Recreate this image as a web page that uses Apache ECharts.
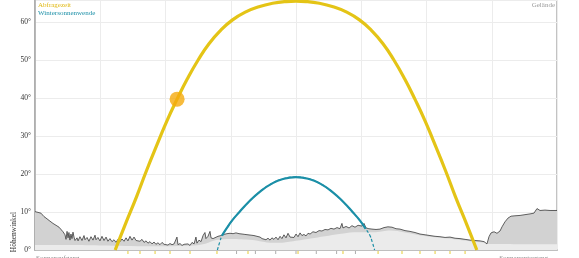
<!DOCTYPE html>
<html><head><meta charset="utf-8">
<script src="https://cdn.jsdelivr.net/npm/echarts@6/dist/echarts.min.js"></script>
<style>html,body{margin:0;padding:0;background:#fff}#c{width:579px;height:258px}</style>
</head><body><div id="c"></div>
<script>
// Azimuth (deg) / altitude (deg) readings
const sunPathAz  = [55.3, 62, 70, 77, 85, 91, 98, 105, 112.5, 120, 128, 136, 145, 155, 165, 172, 180, 188, 195, 205, 215, 224, 232, 240, 247.5, 255, 262, 269, 275, 283, 290, 298, 304.7];
const sunPathAlt = [0, 6.5, 14, 21, 28.5, 34, 39.7, 45, 50, 54.3, 57.8, 60.5, 62.6, 64.1, 65.0, 65.35, 65.5, 65.35, 65.0, 64.1, 62.6, 60.5, 57.8, 54.3, 50, 45, 39.7, 34, 28.5, 21, 14, 6.5, 0];

const winterAz  = [125.8, 127.5, 129, 132, 136, 141, 147, 155, 163, 171, 180, 189, 197, 205, 213, 219, 224, 228, 231, 232.5, 234.2];
const winterAlt = [0, 2.2, 3.8, 5.6, 7.8, 10.0, 12.5, 15.3, 17.4, 18.7, 19.2, 18.7, 17.4, 15.3, 12.5, 10.0, 7.8, 5.6, 3.8, 2.2, 0];

const sunNow = [98, 39.7];

const terrainProfile = [[0,10.1],[2.1,9.9],[4.1,9.7],[6.2,8.8],[8.3,8.2],[10.3,7.6],[12.4,7.0],[14.5,6.5],[16.6,6.0],[17.9,5.6],[19.3,4.8],[20.7,4.0],[21.4,2.8],[22.1,4.9],[22.8,3.2],[23.4,4.6],[24.1,2.6],[24.8,4.2],[25.5,3.0],[26.2,4.7],[26.9,3.4],[27.6,2.5],[29.0,3.2],[29.7,2.4],[31.0,3.5],[32.4,2.5],[33.8,3.8],[34.5,2.7],[35.9,3.3],[37.2,2.3],[38.6,3.5],[40.0,2.6],[41.4,3.9],[42.1,2.7],[43.4,3.3],[44.8,2.4],[46.2,3.6],[47.6,2.5],[49.0,3.4],[50.3,2.3],[51.7,3.0],[53.1,2.2],[54.5,2.7],[55.9,2.0],[57.2,2.8],[58.6,2.2],[60.0,2.9],[61.4,2.3],[62.8,3.2],[64.1,2.4],[65.5,3.6],[66.9,2.6],[68.3,3.4],[69.7,2.5],[71.0,3.0],[72.4,2.3],[73.8,2.8],[75.2,2.0],[76.6,2.4],[77.9,1.8],[79.3,2.2],[80.7,1.6],[82.1,2.1],[83.4,1.5],[84.8,1.9],[86.2,1.4],[87.6,2.0],[89.0,1.5],[90.3,1.8],[91.7,1.3],[93.1,1.7],[94.5,1.4],[95.9,1.6],[97.2,1.3],[97.9,3.4],[98.6,1.4],[100.0,1.7],[101.4,1.2],[102.8,1.5],[104.1,1.1],[105.5,1.6],[106.9,1.2],[108.3,2.0],[109.7,1.6],[111.0,3.4],[111.7,1.8],[113.1,2.6],[114.5,2.2],[115.9,3.8],[117.2,4.6],[117.9,3.0],[119.3,3.6],[120.7,4.9],[121.4,3.2],[122.8,3.0],[124.1,3.3],[126.2,3.6],[128.3,3.8],[130.3,4.1],[132.4,4.3],[134.5,4.4],[136.6,4.3],[138.6,4.5],[140.7,4.3],[142.8,4.2],[144.8,4.1],[146.9,4.0],[149.0,3.9],[151.0,3.8],[153.1,3.6],[155.2,3.4],[156.6,3.0],[157.9,3.3],[159.3,2.7],[160.7,3.1],[162.1,2.6],[163.4,3.2],[164.8,2.8],[166.2,3.4],[167.6,2.7],[169.0,3.6],[170.3,3.0],[171.7,4.0],[173.1,3.2],[174.5,4.4],[175.9,3.4],[177.2,3.9],[178.6,3.3],[180.0,4.2],[181.4,3.5],[182.8,4.5],[184.1,3.8],[185.5,4.1],[186.9,3.7],[188.3,4.4],[189.7,4.2],[191.7,4.8],[193.8,4.6],[195.9,5.1],[197.9,5.0],[200.0,5.4],[202.1,5.3],[204.1,5.7],[206.2,5.5],[208.3,5.9],[210.3,5.6],[211.7,7.0],[212.4,5.8],[214.5,6.2],[216.6,5.8],[218.6,6.4],[220.7,6.0],[222.8,6.5],[224.1,6.0],[225.5,6.3],[226.9,7.0],[228.3,5.8],[230.3,5.6],[232.4,5.5],[235.2,5.4],[237.9,5.5],[240.7,5.9],[243.4,6.1],[246.2,6.0],[249.0,5.6],[251.7,5.5],[255.2,5.1],[258.6,4.9],[262.1,4.6],[265.5,4.2],[269.0,4.0],[272.4,3.8],[275.9,3.6],[279.3,3.5],[282.8,3.3],[286.2,3.4],[289.7,3.1],[293.1,3.0],[296.6,2.8],[300.0,2.6],[303.4,2.5],[306.9,2.4],[309.7,2.2],[311.7,1.6],[313.1,3.5],[314.5,4.5],[316.6,4.8],[318.6,4.4],[320.7,5.0],[322.1,6.1],[324.1,7.4],[326.2,8.4],[328.3,8.9],[331.0,9.0],[334.5,9.1],[337.9,9.3],[341.4,9.5],[344.1,9.7],[346.2,10.9],[348.3,10.4],[351.7,10.5],[355.2,10.4],[360,10.4]];

const groundProfile = [[0,1.3],[20,1.3],[45,1.2],[80,1.0],[110,1.2],[118,1.7],[125,2.6],[135,2.9],[150,2.6],[160,2.0],[168,1.9],[178,2.3],[190,3.0],[200,3.6],[210,4.2],[220,4.7],[235,4.7],[245,5.1],[255,4.6],[270,3.6],[285,3.0],[300,2.3],[310,1.9],[313,1.6],[320,1.6],[340,1.5],[360,1.5]];

const hourAz     = [64.1, 72.4, 82.8, 93.1, 106.9, 125.5, 146.9, 181.4, 212.4, 236.6, 253.1, 265.5, 275.9, 286.2, 296.6];
const hourLabels = ['6','7','8','9','10','11','12','13','14','15','16','17','18','19','20'];
const winterHourAz = [139, 152, 166, 180, 194, 208, 221];

const legendTexts = ['Sommersonnenwende', 'Abfragezeit', 'Wintersonnenwende'];
const yMin = 0, yMax = 65.8, yStep = 10;

const YELLOW = '#e4c416', TEAL = '#1b8fa7', SERIF = 'Liberation Serif';
const zip = (a, b) => a.map((v, i) => [v, b[i]]);
const winterData = zip(winterAz, winterAlt);
const txt = (x, y, text, fill, align) => ({ type: 'text', x: x, y: y, silent: true,
  style: { text: text, fill: fill, font: '7px "Liberation Serif"', align: align || 'left', verticalAlign: 'middle' } });

const chart = echarts.init(document.getElementById('c'));
chart.setOption({
  animation: false,
  grid: { left: 35, right: 22, top: 0, bottom: 8, show: true, borderColor: '#b0b0b0', borderWidth: 1.5 },
  xAxis: { type: 'value', min: 0, max: 360, interval: 45,
    axisLine: { show: true, lineStyle: { color: '#b0b0b0', width: 1.5 } },
    axisTick: { show: false }, axisLabel: { show: false },
    splitLine: { show: true, lineStyle: { color: '#ececec', width: 1 } } },
  yAxis: { type: 'value', min: yMin, max: yMax, interval: yStep,
    axisLine: { show: true, lineStyle: { color: '#a8a8a8', width: 1.5 } },
    axisTick: { show: false },
    axisLabel: { formatter: '{value}°', fontFamily: SERIF, fontSize: 7.5, color: '#333', margin: 4, showMaxLabel: false },
    splitLine: { show: true, lineStyle: { color: '#ececec', width: 1 } } },
  graphic: [
    txt(38, -3, legendTexts[0], '#e8b400'),
    txt(38, 5, legendTexts[1], '#e0b812'),
    txt(38, 13, legendTexts[2], TEAL),
    txt(555, 5, 'Gelände', '#9a9a9a', 'right'),
    { type: 'text', x: 14, y: 232, rotation: Math.PI / 2, silent: true,
      style: { text: 'Höhenwinkel', fill: '#333', font: '7.5px "Liberation Serif"', align: 'center', verticalAlign: 'middle' } },
    txt(36, 258, 'Sonnenaufgang', '#888'),
    txt(548, 258, 'Sonnenuntergang', '#888', 'right')
  ],
  series: [
    { name: 'Gelände', type: 'line', data: terrainProfile, symbol: 'none', silent: true, z: 1,
      lineStyle: { width: 0 }, areaStyle: { color: '#d2d2d2', opacity: 1 } },
    { name: 'Boden', type: 'line', data: groundProfile, symbol: 'none', smooth: 0.4, silent: true, z: 2,
      lineStyle: { width: 0 }, areaStyle: { color: '#ebebeb', opacity: 1 } },
    { name: 'Horizont', type: 'line', data: terrainProfile, symbol: 'none', silent: true, z: 3,
      lineStyle: { color: '#3a3a3a', width: 0.8 } },
    { name: 'Wintersonnenwende (verdeckt)', type: 'line', data: winterData, symbol: 'none', smooth: true, z: 4,
      lineStyle: { color: TEAL, width: 1.2, type: [3, 2] } },
    { name: 'Wintersonnenwende', type: 'line', data: winterData.slice(2, winterData.length - 3), symbol: 'none', smooth: true, z: 5,
      lineStyle: { color: TEAL, width: 2.2 } },
    { name: 'Abfragezeit', type: 'line', data: zip(sunPathAz, sunPathAlt), symbol: 'none', smooth: true, z: 6,
      lineStyle: { color: YELLOW, width: 3.2 } },
    { name: 'Sonnenstand', type: 'scatter', data: [sunNow], symbol: 'circle', symbolSize: 15, z: 7,
      itemStyle: { color: '#f5aa0c' } },
    { name: 'Stunden', type: 'scatter', clip: false, data: hourAz.map((a, i) => ({ value: [a, 0], label: { formatter: hourLabels[i] } })),
      symbol: 'rect', symbolSize: [1, 3], symbolOffset: [0, 2.5], z: 8, itemStyle: { color: '#e0c000' },
      label: { show: true, position: 'bottom', distance: 3, fontFamily: SERIF, fontSize: 6, color: '#d9bc00' } },
    { name: 'Stunden Winter', type: 'scatter', clip: false, data: winterHourAz.map(a => [a, 0]),
      symbol: 'rect', symbolSize: [1, 3], symbolOffset: [0, 2.5], z: 8, itemStyle: { color: '#999' } }
  ]
});
</script></body></html>
